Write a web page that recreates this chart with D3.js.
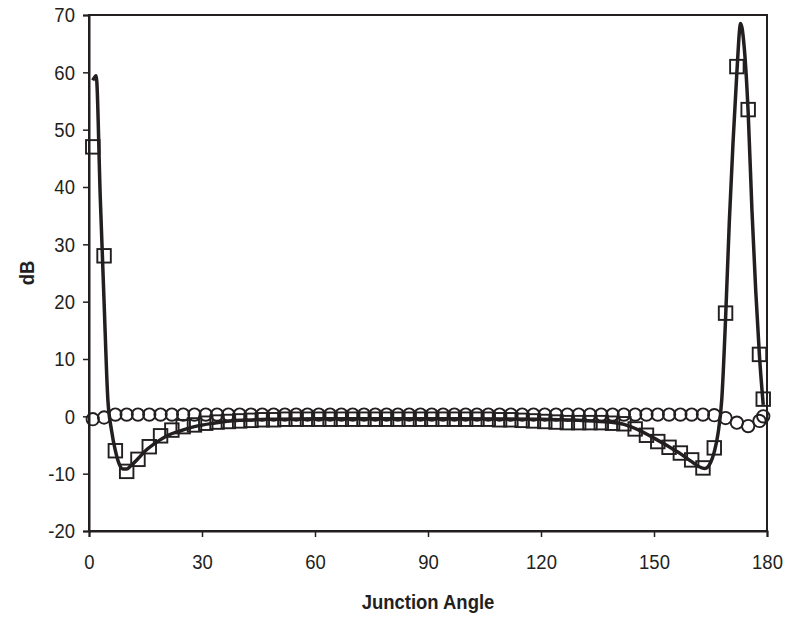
<!DOCTYPE html>
<html>
<head>
<meta charset="utf-8">
<script src="https://cdn.jsdelivr.net/npm/d3@7"></script>
<style>
  body { margin: 0; background: #fff; }
  text { font-family: "Liberation Sans", Arial, sans-serif; fill: #231f20; }
</style>
</head>
<body>
<div id="chart"></div>
<script>
// sampled angles (deg) for the two marker series
const angles = [1, 4, 7, 10, 13, 16, 19, 22, 25, 28, 31, 34, 37, 40, 43, 46, 49, 52, 55, 58,
  61, 64, 67, 70, 73, 76, 79, 82, 85, 88, 91, 94, 97, 100, 103, 106, 109, 112, 115, 118,
  121, 124, 127, 130, 133, 136, 139, 142, 145, 148, 151, 154, 157, 160, 163, 166, 169, 172, 175, 178, 179];

const squareValues = [47, 28, -6, -9.6, -7.5, -5.3, -3.4, -2.4, -1.8, -1.5, -1.2, -1.0, -0.9, -0.8, -0.7, -0.6, -0.6, -0.5, -0.5, -0.5,
  -0.5, -0.5, -0.5, -0.5, -0.5, -0.5, -0.5, -0.5, -0.5, -0.5, -0.5, -0.5, -0.5, -0.5, -0.5, -0.5, -0.6, -0.6, -0.7, -0.8,
  -0.9, -1.0, -1.1, -1.1, -1.1, -1.1, -1.2, -1.3, -2.2, -3.3, -4.4, -5.4, -6.4, -7.6, -9, -5.5, 18, 61, 53.5, 10.8, 3];

const circleValues = [-0.5, -0.2, 0.3, 0.3, 0.3, 0.3, 0.3, 0.3, 0.3, 0.3, 0.3, 0.3, 0.3, 0.3, 0.3, 0.3, 0.3, 0.3, 0.3, 0.3,
  0.3, 0.3, 0.3, 0.3, 0.3, 0.3, 0.3, 0.3, 0.3, 0.3, 0.3, 0.3, 0.3, 0.3, 0.3, 0.3, 0.3, 0.3, 0.3, 0.3,
  0.3, 0.3, 0.3, 0.3, 0.3, 0.3, 0.3, 0.3, 0.3, 0.3, 0.3, 0.3, 0.3, 0.3, 0.3, 0.2, -0.3, -1.1, -1.7, -0.8, 0];

// the solid curve
const lineAngles = [1, 1.9, 3, 4, 5, 6, 7, 8, 9, 10, 11, 13, 15, 18, 21, 24, 28, 33, 40, 50,
  60, 90, 120, 130, 138, 142, 146, 150, 154, 157, 160, 162, 163.5, 165, 166, 167, 168, 169, 170, 171,
  172, 173, 174, 175, 176, 177, 178, 179];
const lineValues = [58.6, 59.4, 38, 20, 3, -2.5, -6, -8.3, -9.2, -9.2, -8.7, -7.4, -6, -4.5, -3.3, -2.6, -1.8, -1.2, -0.7, -0.5,
  -0.4, -0.4, -0.5, -0.7, -1.0, -1.4, -2.4, -3.8, -5.3, -6.5, -7.9, -8.8, -9.1, -8.1, -6.2, -3, 3, 17, 34, 48,
  60, 68.5, 64, 53, 36, 22, 10.5, 2];

const xTicks = [0, 30, 60, 90, 120, 150, 180];
const yTicks = [-20, -10, 0, 10, 20, 30, 40, 50, 60, 70];

const W = 788, H = 617;
const margin = {top: 15, right: 21, bottom: 86, left: 89};
const width = W - margin.left - margin.right;
const height = H - margin.top - margin.bottom;
const ink = '#231f20';

const svg = d3.select('#chart').append('svg')
    .attr('width', W)
    .attr('height', H);

const g = svg.append('g')
    .attr('transform', 'translate(' + margin.left + ',' + margin.top + ')');

const x = d3.scaleLinear().domain([0, 180]).range([0, width]);
const y = d3.scaleLinear().domain([-20, 70]).range([height, 0]);

// frame
g.append('rect')
    .attr('width', width)
    .attr('height', height)
    .attr('fill', 'none')
    .attr('stroke', ink)
    .attr('stroke-width', 2);

const xAxis = g.append('g')
    .attr('transform', 'translate(0,' + height + ')')
    .call(d3.axisBottom(x).tickValues(xTicks).tickFormat(d => String(d)).tickSize(6).tickPadding(17));
const yAxis = g.append('g')
    .call(d3.axisLeft(y).tickValues(yTicks).tickFormat(d => String(d)).tickSize(6).tickPadding(10));

// the original labels are a narrow face, so squeeze them a bit
[xAxis, yAxis].forEach(ax => {
  ax.select('.domain').attr('stroke', ink).attr('stroke-width', 2);
  ax.selectAll('.tick line').attr('stroke', ink).attr('stroke-width', 1.5);
  ax.selectAll('.tick text')
      .attr('fill', ink)
      .attr('transform', 'scale(0.88,1)')
      .style('font-size', '21px')
      .style('font-family', '"Liberation Sans", Arial, sans-serif');
});

// circles series
g.append('g').selectAll('circle')
    .data(angles.map((a, i) => ({a: a, v: circleValues[i]})))
    .join('circle')
    .attr('cx', d => x(d.a))
    .attr('cy', d => y(d.v))
    .attr('r', 6.2)
    .attr('fill', 'none')
    .attr('stroke', ink)
    .attr('stroke-width', 1.9);

// solid line
const line = d3.line()
    .x(d => x(d.a))
    .y(d => y(d.v))
    .curve(d3.curveMonotoneX);

g.append('path')
    .datum(lineAngles.map((a, i) => ({a: a, v: lineValues[i]})))
    .attr('d', line)
    .attr('fill', 'none')
    .attr('stroke', ink)
    .attr('stroke-width', 3.5)
    .attr('stroke-linejoin', 'round');

// squares series
const s = 13.5;
g.append('g').selectAll('rect')
    .data(angles.map((a, i) => ({a: a, v: squareValues[i]})))
    .join('rect')
    .attr('x', d => x(d.a) - s / 2)
    .attr('y', d => y(d.v) - s / 2)
    .attr('width', s)
    .attr('height', s)
    .attr('fill', 'none')
    .attr('stroke', ink)
    .attr('stroke-width', 1.9);

// axis titles
svg.append('text')
    .attr('transform', 'translate(' + (margin.left + width / 2) + ',609) scale(0.88,1)')
    .attr('text-anchor', 'middle')
    .style('font-size', '21px')
    .style('font-weight', 'bold')
    .text('Junction Angle');

svg.append('text')
    .attr('transform', 'translate(34,' + (margin.top + height / 2) + ') rotate(-90) scale(0.88,1)')
    .attr('text-anchor', 'middle')
    .style('font-size', '21px')
    .style('font-weight', 'bold')
    .text('dB');
</script>
</body>
</html>
